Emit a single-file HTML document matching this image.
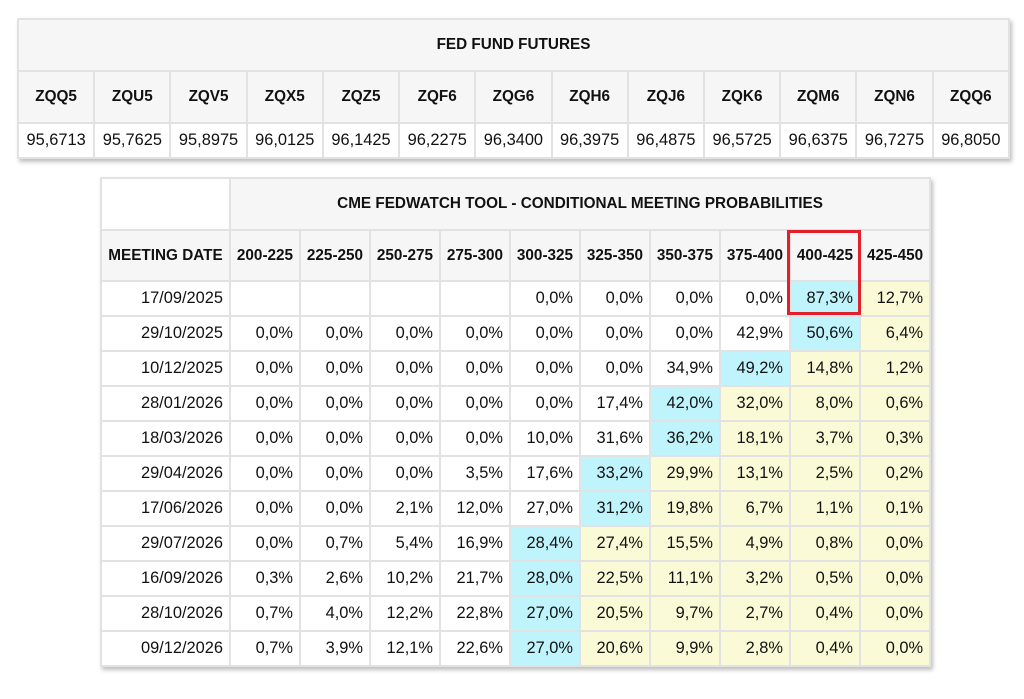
<!DOCTYPE html>
<html><head><meta charset="utf-8"><style>
body{margin:0;width:1024px;height:699px;background:#fff;font-family:"Liberation Sans",Arial,sans-serif;position:relative;overflow:hidden}
table{border-collapse:collapse;position:absolute;table-layout:fixed;box-shadow:2px 3px 4px rgba(0,0,0,0.25)}
td,th{border:2px solid #e2e2e2;padding:0 5px;color:#111}
th{background:#f6f6f6;font-weight:bold;font-size:15.3px;text-align:center;white-space:nowrap}
td{font-size:16.4px;text-align:right;background:#fff}
#t1{left:17px;top:18px;width:993px}
#t1 td{text-align:center;height:33px;padding:0 1px}
#t1 .ti{height:50px}
#t1 .hd{height:50px}
#t2{left:100px;top:177px;width:828px}
#t2 .ti{height:50px}
#t2 .hd{height:49px}
#t2 th{padding:0 2px}
#t2 td{height:33px;padding:0 6px 0 0}
#t2 th.md{text-align:center}
.c{background:#c0f4fc!important}
.y{background:#fafad6!important}
#box{position:absolute;left:787px;top:230px;width:68px;height:79px;border:3px solid #e0202a}
</style></head><body>
<table id="t1">
<tr><th colspan="13" class="ti">FED FUND FUTURES</th></tr>
<tr class="hd"><th class="hd">ZQQ5</th><th>ZQU5</th><th>ZQV5</th><th>ZQX5</th><th>ZQZ5</th><th>ZQF6</th><th>ZQG6</th><th>ZQH6</th><th>ZQJ6</th><th>ZQK6</th><th>ZQM6</th><th>ZQN6</th><th>ZQQ6</th></tr>
<tr><td>95,6713</td><td>95,7625</td><td>95,8975</td><td>96,0125</td><td>96,1425</td><td>96,2275</td><td>96,3400</td><td>96,3975</td><td>96,4875</td><td>96,5725</td><td>96,6375</td><td>96,7275</td><td>96,8050</td></tr>
</table>
<table id="t2">
<colgroup><col style="width:129px"><col span="10" style="width:70px"></colgroup>
<tr><th style="background:#fff"></th><th colspan="10" class="ti">CME FEDWATCH TOOL - CONDITIONAL MEETING PROBABILITIES</th></tr>
<tr class="hd"><th class="md hd">MEETING DATE</th><th>200-225</th><th>225-250</th><th>250-275</th><th>275-300</th><th>300-325</th><th>325-350</th><th>350-375</th><th>375-400</th><th>400-425</th><th>425-450</th></tr>
<tr><td>17/09/2025</td><td></td><td></td><td></td><td></td><td>0,0%</td><td>0,0%</td><td>0,0%</td><td>0,0%</td><td class="c">87,3%</td><td class="y">12,7%</td></tr>
<tr><td>29/10/2025</td><td>0,0%</td><td>0,0%</td><td>0,0%</td><td>0,0%</td><td>0,0%</td><td>0,0%</td><td>0,0%</td><td>42,9%</td><td class="c">50,6%</td><td class="y">6,4%</td></tr>
<tr><td>10/12/2025</td><td>0,0%</td><td>0,0%</td><td>0,0%</td><td>0,0%</td><td>0,0%</td><td>0,0%</td><td>34,9%</td><td class="c">49,2%</td><td class="y">14,8%</td><td class="y">1,2%</td></tr>
<tr><td>28/01/2026</td><td>0,0%</td><td>0,0%</td><td>0,0%</td><td>0,0%</td><td>0,0%</td><td>17,4%</td><td class="c">42,0%</td><td class="y">32,0%</td><td class="y">8,0%</td><td class="y">0,6%</td></tr>
<tr><td>18/03/2026</td><td>0,0%</td><td>0,0%</td><td>0,0%</td><td>0,0%</td><td>10,0%</td><td>31,6%</td><td class="c">36,2%</td><td class="y">18,1%</td><td class="y">3,7%</td><td class="y">0,3%</td></tr>
<tr><td>29/04/2026</td><td>0,0%</td><td>0,0%</td><td>0,0%</td><td>3,5%</td><td>17,6%</td><td class="c">33,2%</td><td class="y">29,9%</td><td class="y">13,1%</td><td class="y">2,5%</td><td class="y">0,2%</td></tr>
<tr><td>17/06/2026</td><td>0,0%</td><td>0,0%</td><td>2,1%</td><td>12,0%</td><td>27,0%</td><td class="c">31,2%</td><td class="y">19,8%</td><td class="y">6,7%</td><td class="y">1,1%</td><td class="y">0,1%</td></tr>
<tr><td>29/07/2026</td><td>0,0%</td><td>0,7%</td><td>5,4%</td><td>16,9%</td><td class="c">28,4%</td><td class="y">27,4%</td><td class="y">15,5%</td><td class="y">4,9%</td><td class="y">0,8%</td><td class="y">0,0%</td></tr>
<tr><td>16/09/2026</td><td>0,3%</td><td>2,6%</td><td>10,2%</td><td>21,7%</td><td class="c">28,0%</td><td class="y">22,5%</td><td class="y">11,1%</td><td class="y">3,2%</td><td class="y">0,5%</td><td class="y">0,0%</td></tr>
<tr><td>28/10/2026</td><td>0,7%</td><td>4,0%</td><td>12,2%</td><td>22,8%</td><td class="c">27,0%</td><td class="y">20,5%</td><td class="y">9,7%</td><td class="y">2,7%</td><td class="y">0,4%</td><td class="y">0,0%</td></tr>
<tr><td>09/12/2026</td><td>0,7%</td><td>3,9%</td><td>12,1%</td><td>22,6%</td><td class="c">27,0%</td><td class="y">20,6%</td><td class="y">9,9%</td><td class="y">2,8%</td><td class="y">0,4%</td><td class="y">0,0%</td></tr>
</table>
<div id="box"></div>
</body></html>
